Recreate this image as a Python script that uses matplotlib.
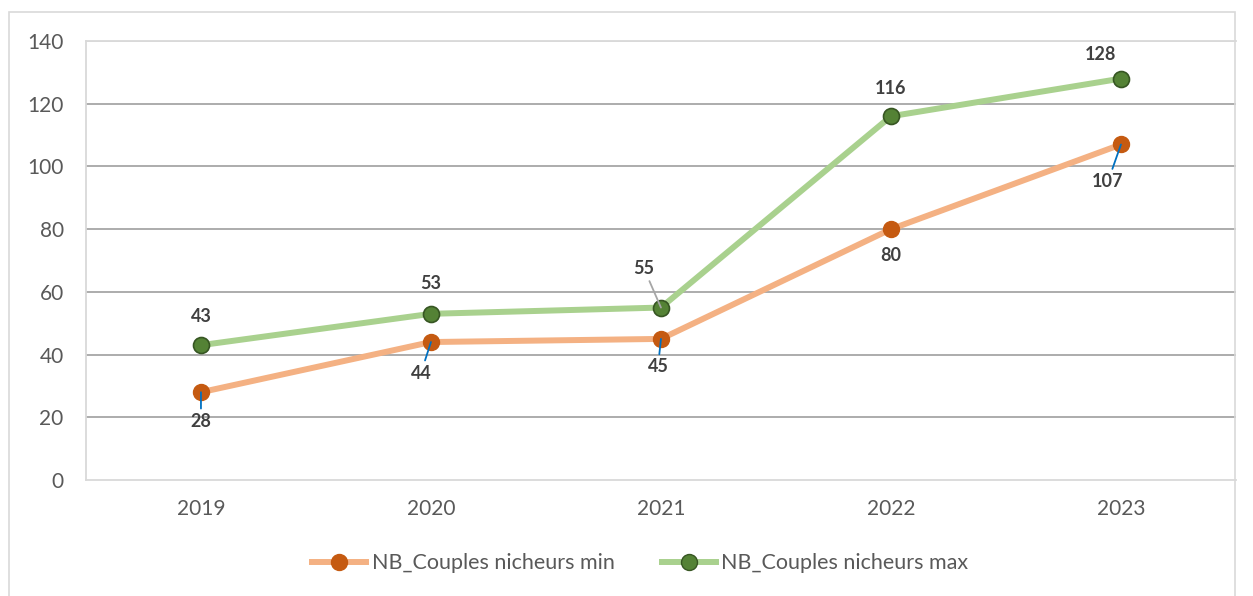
import matplotlib
matplotlib.use("Agg")
import matplotlib.pyplot as plt
from matplotlib.lines import Line2D
from matplotlib.patches import Rectangle

plt.rcParams['font.family'] = ['Lato', 'DejaVu Sans']

years = ["2019", "2020", "2021", "2022", "2023"]
min_vals = [28, 44, 45, 80, 107]
max_vals = [43, 53, 55, 116, 128]
y_ticks = [0, 20, 40, 60, 80, 100, 120, 140]
min_label = "NB_Couples nicheurs min"
max_label = "NB_Couples nicheurs max"

fig = plt.figure(figsize=(12.53, 5.96), dpi=100)
ax = fig.add_axes([0.0686, 0.1946, 0.9178, 0.7366])

# outer chart border (bottom edge lies outside the picture)
fig.patches.append(Rectangle((9/1253, -0.02), (1235-9)/1253, 1-12/596+0.02,
                             transform=fig.transFigure, fill=False,
                             edgecolor='#d9d9d9', linewidth=1.2))

x = list(range(len(years)))
ax.plot(x, min_vals, color='#F4B183', linewidth=4.3, zorder=3,
        marker='o', markersize=11.5, markerfacecolor='#C55A11',
        markeredgecolor='#C55A11', solid_capstyle='round')
ax.plot(x, max_vals, color='#A9D18E', linewidth=4.3, zorder=3,
        marker='o', markersize=11.5, markerfacecolor='#548235',
        markeredgecolor='#375623', markeredgewidth=1.2, solid_capstyle='round')

ax.set_xlim(-0.5, len(years) - 0.5)
ax.set_ylim(0, 140)
ax.set_yticks(y_ticks)
ax.set_xticks(x)
ax.set_xticklabels(years)
ax.tick_params(axis='both', length=0, labelsize=15, labelcolor='#595959')
ax.tick_params(axis='y', pad=16)
ax.tick_params(axis='x', pad=14)
for t in y_ticks[1:-1]:
    ax.axhline(t, color='#a6a6a6', linewidth=1.3, zorder=1)
ax.axhline(140, color='#d9d9d9', linewidth=1.3, zorder=1)
ax.spines['right'].set_visible(False)
for s in ['left', 'top', 'bottom']:
    ax.spines[s].set_color('#d9d9d9')
    ax.spines[s].set_linewidth(1.3)

lab_kw = dict(textcoords='offset pixels', ha='center', va='center',
              fontsize=13, fontweight='bold', color='#404040', zorder=6)
blue = '#0070C0'

# offsets in pixels (dx, dy) and leader colour
max_offsets = [(0, 29, None), (0, 30, None), (-17, 39, '#a6a6a6'), (0, 28, None), (-20, 24, None)]
min_offsets = [(0, -29, blue), (-10, -31, blue), (-3, -28, blue), (0, -26, None), (-13, -37, blue)]

for vals, offs in ((max_vals, max_offsets), (min_vals, min_offsets)):
    for i, (v, (dx, dy, lc)) in enumerate(zip(vals, offs)):
        kw = dict(lab_kw)
        if lc is not None:
            kw['arrowprops'] = dict(arrowstyle='-', color=lc, linewidth=1.3,
                                    shrinkA=1, shrinkB=0)
        ax.annotate(str(v), xy=(i, v), xytext=(dx, dy), **kw)

handles = [
    Line2D([], [], color='#F4B183', linewidth=4.3, marker='o', markersize=11.5,
           markerfacecolor='#C55A11', markeredgecolor='#C55A11'),
    Line2D([], [], color='#A9D18E', linewidth=4.3, marker='o', markersize=11.5,
           markerfacecolor='#548235', markeredgecolor='#375623'),
]
fig.legend(handles, [min_label, max_label], loc='center',
           bbox_to_anchor=(0.511, 0.055), ncol=2, frameon=False,
           fontsize=15.5, labelcolor='#595959', handlelength=2.5,
           handletextpad=0.25, columnspacing=2.2)

fig.savefig('out.png', dpi=100)
